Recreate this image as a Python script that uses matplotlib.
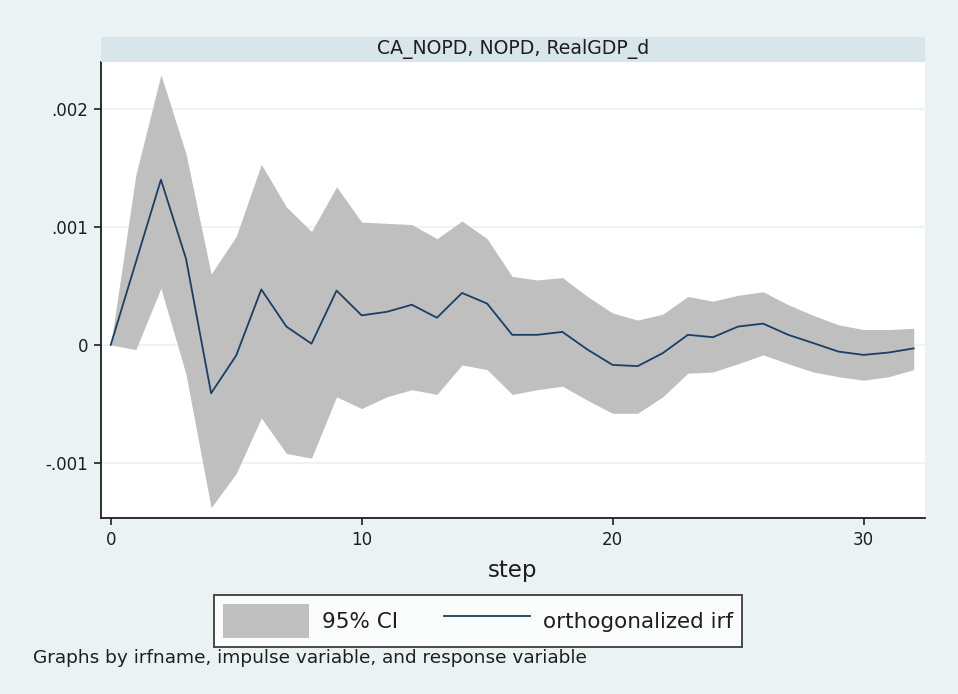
import matplotlib
matplotlib.use('Agg')
import matplotlib.pyplot as plt
from matplotlib.patches import Patch
from matplotlib.lines import Line2D

plt.rcParams['font.family'] = ['DejaVu Sans']

# impulse response, orthogonalized, with 95% band
steps = list(range(33))
irf = [0, 0.0007, 0.0014, 0.00073, -0.00041, -0.00009, 0.00047, 0.000155, 0.00001,
       0.00046, 0.00025, 0.00028, 0.00034, 0.00023, 0.00044, 0.00035, 0.000085,
       0.000085, 0.00011, -0.00004, -0.00017, -0.00018, -0.00007, 0.000085, 0.000065,
       0.000155, 0.00018, 0.000085, 0.000015, -0.000057, -0.000085, -0.000065, -0.00003]
upper = [0, 0.00144, 0.00229, 0.00162, 0.0006, 0.00092, 0.00153, 0.00117, 0.00096,
         0.00134, 0.00104, 0.00103, 0.00102, 0.0009, 0.00105, 0.0009, 0.00058,
         0.00055, 0.00057, 0.00041, 0.00027, 0.00021, 0.00026, 0.00041, 0.00037,
         0.00042, 0.00045, 0.00034, 0.00025, 0.00017, 0.00013, 0.00013, 0.00014]
lower = [0, -0.00004, 0.00048, -0.00025, -0.00138, -0.00109, -0.00062, -0.00092, -0.00096,
         -0.00044, -0.00054, -0.00044, -0.00038, -0.00042, -0.00017, -0.00021, -0.00042,
         -0.00038, -0.00035, -0.00047, -0.00058, -0.00058, -0.00044, -0.00024, -0.00023,
         -0.00016, -0.000085, -0.00016, -0.00023, -0.00027, -0.0003, -0.00027, -0.00021]

title = 'CA_NOPD, NOPD, RealGDP_d'
xticks = [0, 10, 20, 30]
yticks = [-0.001, 0, 0.001, 0.002]
ytick_labels = ['-.001', '0', '.001', '.002']

W, H = 958, 694
bg = '#eaf2f3'
band_col = '#bfbfbf'
line_col = '#1a3f63'
ink = '#1e1e1e'

fig = plt.figure(figsize=(W / 100, H / 100), dpi=100, facecolor=bg)

left, right, top, bottom = 100.7, 925, 61.7, 518.3
ax = fig.add_axes([left / W, 1 - bottom / H, (right - left) / W, (bottom - top) / H])
ax.set_facecolor('white')

ax.fill_between(steps, lower, upper, color=band_col, linewidth=0, zorder=2)
ax.plot(steps, irf, color=line_col, linewidth=1.3, zorder=3)

ax.set_xlim(-0.4, 32.45)
ax.set_ylim(-0.00147, 0.0024)
ax.set_xticks(xticks)
ax.set_yticks(yticks)
ax.set_yticklabels(ytick_labels)
ax.yaxis.grid(True, color=bg, linewidth=1.2, zorder=1)
ax.set_axisbelow(True)

for s in ['top', 'right']:
    ax.spines[s].set_visible(False)
for s in ['left', 'bottom']:
    ax.spines[s].set_linewidth(1.3)
    ax.spines[s].set_color(ink)
ax.tick_params(direction='out', length=5, width=1.2, color=ink,
               labelsize=12, labelcolor=ink, pad=4)
ax.set_xlabel('step', fontsize=16.5, color=ink, labelpad=7)

# strip with the by-group title
strip = fig.add_axes([left / W, 1 - top / H, (right - left) / W, (top - 37) / H])
strip.set_facecolor('#d8e5eb')
strip.set_xticks([])
strip.set_yticks([])
for s in strip.spines.values():
    s.set_visible(False)
strip.text(0.5, 0.5, title, ha='center', va='center', fontsize=13.6, color=ink)

handles = [Patch(facecolor=band_col, edgecolor='none'),
           Line2D([], [], color=line_col, linewidth=1.3)]
leg = fig.legend(handles, ['95% CI', 'orthogonalized irf'], ncol=2,
                 loc='center', bbox_to_anchor=(478 / W, 1 - 621 / H),
                 fontsize=15.5, frameon=True, fancybox=False,
                 handlelength=4.0, handleheight=2.0, columnspacing=2.1,
                 borderpad=0.42, handletextpad=0.6, borderaxespad=0)
leg.get_frame().set_edgecolor(ink)
leg.get_frame().set_linewidth(1.4)
for t in leg.get_texts():
    t.set_color(ink)

fig.text(33 / W, 1 - 658 / H, 'Graphs by irfname, impulse variable, and response variable',
         ha='left', va='center', fontsize=13.3, color=ink)

fig.savefig('out.png', dpi=100, facecolor=bg)
